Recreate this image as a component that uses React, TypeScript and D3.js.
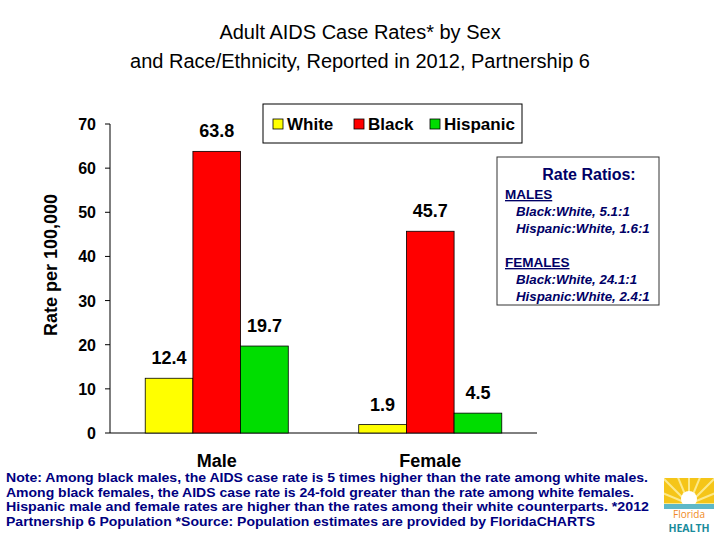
import React from "react";
import * as d3 from "d3";

const categories = ["Male", "Female"];
const seriesNames = ["White", "Black", "Hispanic"];
const white = [12.4, 1.9];
const black = [63.8, 45.7];
const hispanic = [19.7, 4.5];
const yTicks = [0, 10, 20, 30, 40, 50, 60, 70];
const colors = ["#FFFF00", "#FF0000", "#00DD00"];
const noteLines = [
  "Note: Among black males, the AIDS case rate is 5 times higher than the rate among white males.",
  "Among black females, the AIDS case rate is 24-fold greater than the rate among white females.",
  "Hispanic male and female rates are higher than the rates among their white counterparts. *2012",
  "Partnership 6 Population *Source: Population estimates are provided by FloridaCHARTS",
];
const noteWidths = [642, 628, 643, 589];
const ratioLines = [
  { t: "MALES", u: true, row: 0 },
  { t: "Black:White, 5.1:1", u: false, row: 1 },
  { t: "Hispanic:White, 1.6:1", u: false, row: 2 },
  { t: "FEMALES", u: true, row: 4 },
  { t: "Black:White, 24.1:1", u: false, row: 5 },
  { t: "Hispanic:White, 2.4:1", u: false, row: 6 },
];

export default function App() {
  const series = [white, black, hispanic];
  const left = 110, right = 537, top = 124, bottom = 433;
  const y = d3.scaleLinear().domain([0, 70]).range([bottom, top]);
  const x0 = d3.scaleBand().domain(categories).range([left, right]).paddingInner(0.33).paddingOuter(0.165);
  const x1 = d3.scaleBand().domain(seriesNames).range([0, x0.bandwidth()]);
  const font = "Arial, 'Liberation Sans', sans-serif";
  return (
    <svg width={720} height={540} style={{ position: "absolute", left: 0, top: 0 }} fontFamily={font}>
      <rect width={720} height={540} fill="#fff" />
      <text x={360} y={39} textAnchor="middle" fontSize={20} fill="#000">Adult AIDS Case Rates* by Sex</text>
      <text x={360} y={68} textAnchor="middle" fontSize={20} fill="#000">and Race/Ethnicity, Reported in 2012, Partnership 6</text>
      {/* axes */}
      <line x1={left} x2={left} y1={top} y2={bottom} stroke="#000" />
      <line x1={left} x2={right} y1={bottom} y2={bottom} stroke="#000" />
      {yTicks.map((t) => (
        <g key={t}>
          <line x1={left - 5} x2={left} y1={y(t)} y2={y(t)} stroke="#000" />
          <text x={96} y={y(t) + 6} textAnchor="end" fontSize={16} fontWeight="bold">{t}</text>
        </g>
      ))}
      <text transform={`translate(57,265) rotate(-90)`} textAnchor="middle" fontSize={18} fontWeight="bold">Rate per 100,000</text>
      {categories.map((c, ci) => (
        <g key={c}>
          <text x={x0(c)! + x0.bandwidth() / 2} y={467} textAnchor="middle" fontSize={18} fontWeight="bold">{c}</text>
          {seriesNames.map((s, si) => {
            const v = series[si][ci];
            const bx = x0(c)! + x1(s)!;
            return (
              <g key={s}>
                <rect x={bx} y={y(v)} width={x1.bandwidth()} height={bottom - y(v)} fill={colors[si]} stroke="#000" strokeWidth={0.8} />
                <text x={bx + x1.bandwidth() / 2} y={y(v) - 14} textAnchor="middle" fontSize={18} fontWeight="bold">{v.toFixed(1)}</text>
              </g>
            );
          })}
        </g>
      ))}
      {/* legend */}
      <rect x={263} y={104} width={259} height={39} fill="#fff" stroke="#000" />
      {seriesNames.map((s, i) => {
        const lx = [273, 354, 430][i];
        return (
          <g key={s}>
            <rect x={lx} y={119} width={10} height={10} fill={colors[i]} stroke="#000" strokeWidth={0.8} />
            <text x={lx + 14} y={130} fontSize={17} fontWeight="bold">{s}</text>
          </g>
        );
      })}
      {/* ratios box */}
      <rect x={497} y={157} width={162} height={148} fill="#fff" stroke="#333" />
      <text x={589} y={180} textAnchor="middle" fontSize={16} fontWeight="bold" fill="#000066">Rate Ratios:</text>
      {ratioLines.map((l, i) => (
        <text key={i} x={l.u ? 505 : 516} y={199 + l.row * 17} fontSize={l.u ? 13.5 : 13.3} fill="#000066" fontWeight="bold"
          fontStyle={l.u ? "normal" : "italic"} textDecoration={l.u ? "underline" : "none"}>
          {l.t}
        </text>
      ))}
      {/* note */}
      {noteLines.map((t, i) => (
        <text key={i} x={6} y={482 + i * 14.5} fontSize={13} fontWeight="bold" fill="#000080"
          textLength={noteWidths[i]} lengthAdjust="spacingAndGlyphs">{t}</text>
      ))}
      {/* logo */}
      <g>
        <clipPath id="lc"><rect x={664} y={478} width={50} height={30} /></clipPath>
        <rect x={664} y={478} width={50} height={30} fill="#F5C518" />
        {d3.range(9).map((k) => {
          const a = Math.PI + (k * Math.PI) / 8;
          return <line key={k} x1={689} y1={504} x2={689 + 40 * Math.cos(a)} y2={504 + 40 * Math.sin(a)} stroke="#FCE98A" strokeWidth={2} clipPath="url(#lc)" />;
        })}
        <circle cx={689} cy={499} r={8} fill="#fff" />
        <rect x={664} y={504} width={50} height={5} fill="#5DB8C8" />
        <text x={689} y={518} textAnchor="middle" fontSize={10} fill="#F08A24" fontFamily="'Open Sans', sans-serif">Florida</text>
        <text x={689} y={532} textAnchor="middle" fontSize={10.5} fontWeight="bold" fill="#1A8C9C" fontFamily="'Open Sans', sans-serif">HEALTH</text>
      </g>
    </svg>
  );
}
